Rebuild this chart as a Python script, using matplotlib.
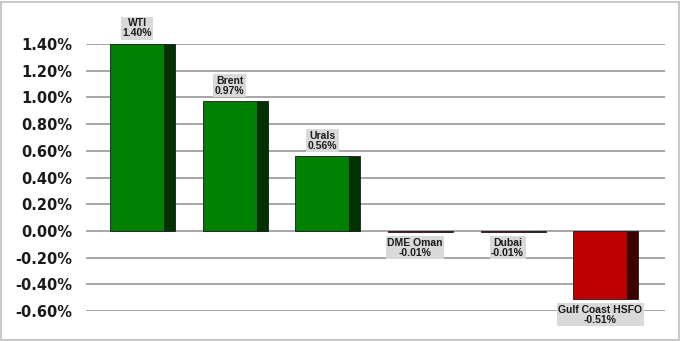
import matplotlib.pyplot as plt
from matplotlib.patches import Rectangle
from matplotlib.ticker import FuncFormatter

# crude benchmarks, daily change
names = ['WTI', 'Brent', 'Urals', 'DME Oman', 'Dubai', 'Gulf Coast HSFO']
changes = [1.40, 0.97, 0.56, -0.01, -0.01, -0.51]
y_ticks = [-0.6, -0.4, -0.2, 0.0, 0.2, 0.4, 0.6, 0.8, 1.0, 1.2, 1.4]

W, H = 681, 341
fig = plt.figure(figsize=(W / 100, H / 100), dpi=100)
ax = fig.add_axes([86 / W, (H - 311) / H, 579 / W, 267 / H])

front_w = 0.58
side_w = 0.12
for i, v in enumerate(changes):
    if v >= 0:
        face, side = '#008000', '#003300'
    else:
        face, side = '#C00000', '#3F0000'
    ax.bar(i, v, width=front_w, color=face, edgecolor='#1a1a1a', linewidth=0.6, zorder=3)
    ax.bar(i + front_w / 2 + side_w / 2, v, width=side_w, color=side,
           edgecolor='#1a1a1a', linewidth=0.6, zorder=3)
    label = names[i] + '\n' + '%.2f%%' % v
    if v >= 0:
        ax.annotate(label, (i, v), xytext=(0, 4), textcoords='offset points',
                    ha='center', va='bottom', fontsize=7.5, fontweight='bold',
                    family='Liberation Sans', linespacing=1.0, color='#1a1a1a',
                    bbox=dict(boxstyle='square,pad=0.15', fc='#D9D9D9', ec='none'),
                    zorder=5, annotation_clip=False)
    else:
        ax.annotate(label, (i, v), xytext=(0, -4), textcoords='offset points',
                    ha='center', va='top', fontsize=7.5, fontweight='bold',
                    family='Liberation Sans', linespacing=1.0, color='#1a1a1a',
                    bbox=dict(boxstyle='square,pad=0.15', fc='#D9D9D9', ec='none'),
                    zorder=5, annotation_clip=False)

ax.set_xlim(-0.551, 5.70)
ax.set_ylim(-0.6, 1.4)
ax.set_yticks(y_ticks)
ax.yaxis.set_major_formatter(FuncFormatter(lambda y, p: '%.2f%%' % y))
for t in ax.get_yticklabels():
    t.set_fontweight('bold')
    t.set_fontsize(10.5)
    t.set_color('#1a1a1a')
ax.tick_params(axis='y', length=0, pad=10)
ax.set_xticks([])
ax.yaxis.grid(True, color='#A6A6A6', linewidth=1.4, zorder=0)
ax.set_axisbelow(True)
for s in ax.spines.values():
    s.set_visible(False)

# outer frame around the chart
fig.patches.append(Rectangle((1 / W, 1 / H), (W - 3) / W, (H - 3) / H,
                             transform=fig.transFigure, fill=False,
                             ec='#BFBFBF', lw=1.2))

fig.savefig('out.png', dpi=100)
